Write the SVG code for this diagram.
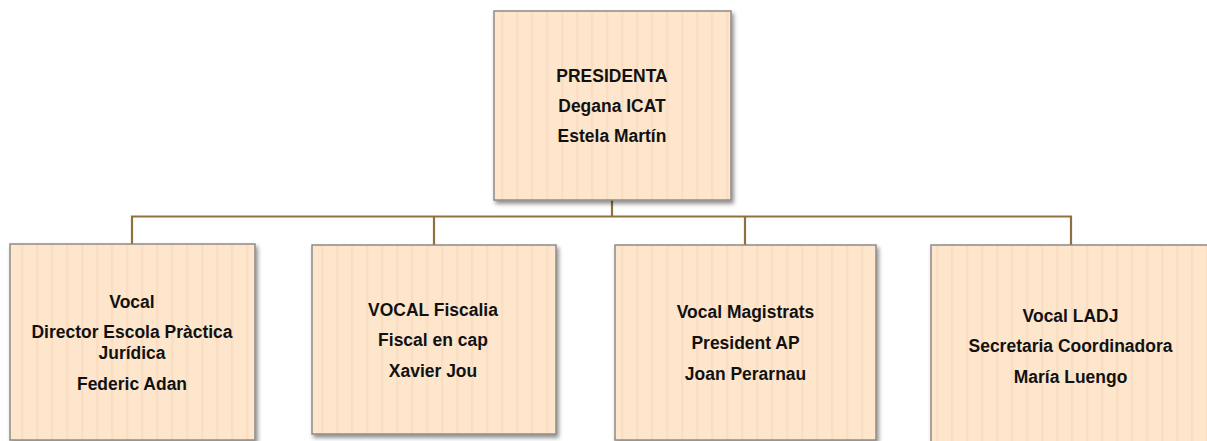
<svg xmlns="http://www.w3.org/2000/svg" width="1207" height="441" viewBox="0 0 1207 441">
  <defs>
    <pattern id="stripes" patternUnits="userSpaceOnUse" x="0" y="0" width="15" height="20">
      <rect width="15" height="20" fill="#FEE6CD"/>
      <rect x="6" width="2.5" height="20" fill="#F9DEC4"/>
    </pattern>
    <filter id="shadow" x="-10%" y="-10%" width="125%" height="125%">
      <feDropShadow dx="2" dy="3" stdDeviation="2" flood-color="#000" flood-opacity="0.45"/>
    </filter>
  </defs>
  <style>
    .box { fill: url(#stripes); stroke: #8E8A86; stroke-width: 1.5; filter: url(#shadow); }
    .conn { fill: none; stroke: #8F7040; stroke-width: 2.2; }
    text { font-family: "Liberation Sans", Arial, sans-serif; font-weight: bold; font-size: 19px; fill: #111; text-anchor: middle; }
  </style>
  <rect width="1207" height="441" fill="#FFFFFF"/>

  <g id="connectors">
    <path class="conn" d="M612,200 V216.5"/>
    <path class="conn" d="M132,244 V216.5 H1071 V245"/>
    <path class="conn" d="M434,216.5 V245"/>
    <path class="conn" d="M745,216.5 V245"/>
  </g>

  <g id="node-presidenta">
    <rect class="box" x="494" y="11" width="237" height="189"/>
    <text transform="translate(612 82) scale(0.92 1)">PRESIDENTA</text>
    <text transform="translate(612 112) scale(0.92 1)">Degana ICAT</text>
    <text transform="translate(612 142) scale(0.92 1)">Estela Martín</text>
  </g>

  <g id="node-vocal-escola">
    <rect class="box" x="10" y="244" width="245" height="196"/>
    <text transform="translate(132 308) scale(0.92 1)">Vocal</text>
    <text transform="translate(132 338) scale(0.92 1)">Director Escola Pràctica</text>
    <text transform="translate(132 359) scale(0.92 1)">Jurídica</text>
    <text transform="translate(132 390) scale(0.92 1)">Federic Adan</text>
  </g>

  <g id="node-vocal-fiscalia">
    <rect class="box" x="312" y="245" width="244" height="189"/>
    <text transform="translate(433 316) scale(0.92 1)">VOCAL Fiscalia</text>
    <text transform="translate(433 346) scale(0.92 1)">Fiscal en cap</text>
    <text transform="translate(433 377) scale(0.92 1)">Xavier Jou</text>
  </g>

  <g id="node-vocal-magistrats">
    <rect class="box" x="615" y="245" width="261" height="195"/>
    <text transform="translate(745.5 318) scale(0.92 1)">Vocal Magistrats</text>
    <text transform="translate(745.5 349) scale(0.92 1)">President AP</text>
    <text transform="translate(745.5 380) scale(0.92 1)">Joan Perarnau</text>
  </g>

  <g id="node-vocal-ladj">
    <rect class="box" x="931" y="245" width="285" height="205"/>
    <text transform="translate(1070.5 322) scale(0.92 1)">Vocal LADJ</text>
    <text transform="translate(1070.5 352) scale(0.92 1)">Secretaria Coordinadora</text>
    <text transform="translate(1070.5 383) scale(0.92 1)">María Luengo</text>
  </g>
</svg>
